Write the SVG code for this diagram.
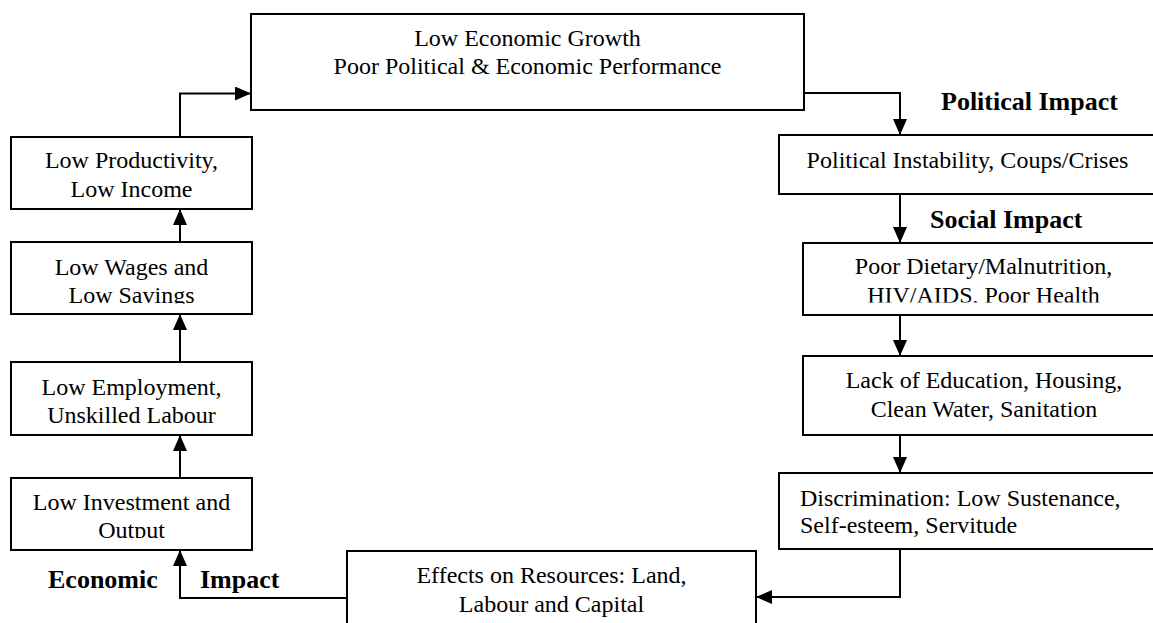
<svg xmlns="http://www.w3.org/2000/svg" width="1153" height="623" viewBox="0 0 1153 623">
<style>
.box{fill:#fff;stroke:#000;stroke-width:2}
.t{font-family:"Liberation Serif","Times New Roman",serif;font-size:24px;fill:#000;text-anchor:middle}
.tl{font-family:"Liberation Serif","Times New Roman",serif;font-size:24px;fill:#000;text-anchor:start}
.b{font-family:"Liberation Serif","Times New Roman",serif;font-size:26px;font-weight:bold;fill:#000}
.c{fill:none;stroke:#000;stroke-width:2}
</style>
<defs>
<marker id="ah" viewBox="0 0 16 14" refX="16" refY="7" markerWidth="16" markerHeight="14" markerUnits="userSpaceOnUse" orient="auto">
<path d="M0,0 L16,7 L0,14 Z" fill="#000"/>
</marker>
<clipPath id="clipLW"><rect x="12" y="243" width="239" height="60.5"/></clipPath>
<clipPath id="clipLI"><rect x="12" y="479" width="239" height="59"/></clipPath>
<clipPath id="clipPD"><rect x="804" y="244" width="349" height="58.5"/></clipPath>
</defs>
<rect width="1153" height="623" fill="#fff"/>

<g id="connectors">
<path class="c" d="M180,137 V93.5 H251" marker-end="url(#ah)"/>
<path class="c" d="M180,242 V209" marker-end="url(#ah)"/>
<path class="c" d="M180,362 V314" marker-end="url(#ah)"/>
<path class="c" d="M180,478 V435" marker-end="url(#ah)"/>
<path class="c" d="M347,598 H180 V550" marker-end="url(#ah)"/>
<path class="c" d="M804,93 H900 V135" marker-end="url(#ah)"/>
<path class="c" d="M900,194 V243" marker-end="url(#ah)"/>
<path class="c" d="M900,315 V356" marker-end="url(#ah)"/>
<path class="c" d="M900,435 V473" marker-end="url(#ah)"/>
<path class="c" d="M900,549 V597 H756" marker-end="url(#ah)"/>
</g>

<g id="top">
<rect class="box" x="251" y="14" width="553" height="96"/>
<text class="t" x="527.5" y="46">Low Economic Growth</text>
<text class="t" x="527.5" y="74">Poor Political &amp; Economic Performance</text>
</g>

<g id="lowProductivity">
<rect class="box" x="11" y="137" width="241" height="72"/>
<text class="t" x="131.5" y="168">Low Productivity,</text>
<text class="t" x="131.5" y="197">Low Income</text>
</g>

<g id="lowWages">
<rect class="box" x="11" y="242" width="241" height="72"/>
<g clip-path="url(#clipLW)">
<text class="t" x="131.5" y="275">Low Wages and</text>
<text class="t" x="131.5" y="303">Low Savings</text>
</g>
</g>

<g id="lowEmployment">
<rect class="box" x="11" y="362" width="241" height="73"/>
<text class="t" x="131.5" y="395">Low Employment,</text>
<text class="t" x="131.5" y="423">Unskilled Labour</text>
</g>

<g id="lowInvestment">
<rect class="box" x="11" y="478" width="241" height="72"/>
<g clip-path="url(#clipLI)">
<text class="t" x="131.5" y="510">Low Investment and</text>
<text class="t" x="131.5" y="538">Output</text>
</g>
</g>

<g id="politicalInstability">
<rect class="box" x="779" y="135" width="390" height="59"/>
<text class="t" x="967.5" y="168">Political Instability, Coups/Crises</text>
</g>

<g id="poorDietary">
<rect class="box" x="803" y="243" width="370" height="72"/>
<g clip-path="url(#clipPD)">
<text class="t" x="983.5" y="274">Poor Dietary/Malnutrition,</text>
<text class="t" x="983.5" y="303">HIV/AIDS, Poor Health</text>
</g>
</g>

<g id="lackEducation">
<rect class="box" x="803" y="356" width="370" height="79"/>
<text class="t" x="984" y="388">Lack of Education, Housing,</text>
<text class="t" x="984" y="417">Clean Water, Sanitation</text>
</g>

<g id="discrimination">
<rect class="box" x="779" y="473" width="390" height="76"/>
<text class="tl" x="800" y="506">Discrimination: Low Sustenance,</text>
<text class="tl" x="800" y="533">Self-esteem, Servitude</text>
</g>

<g id="effects">
<rect class="box" x="347" y="551" width="409" height="100"/>
<text class="t" x="551.5" y="583">Effects on Resources: Land,</text>
<text class="t" x="551.5" y="612">Labour and Capital</text>
</g>

<g id="labels">
<text class="b" x="941" y="110">Political Impact</text>
<text class="b" x="930" y="228">Social Impact</text>
<text class="b" x="48" y="588">Economic</text>
<text class="b" x="200" y="588">Impact</text>
</g>
</svg>
